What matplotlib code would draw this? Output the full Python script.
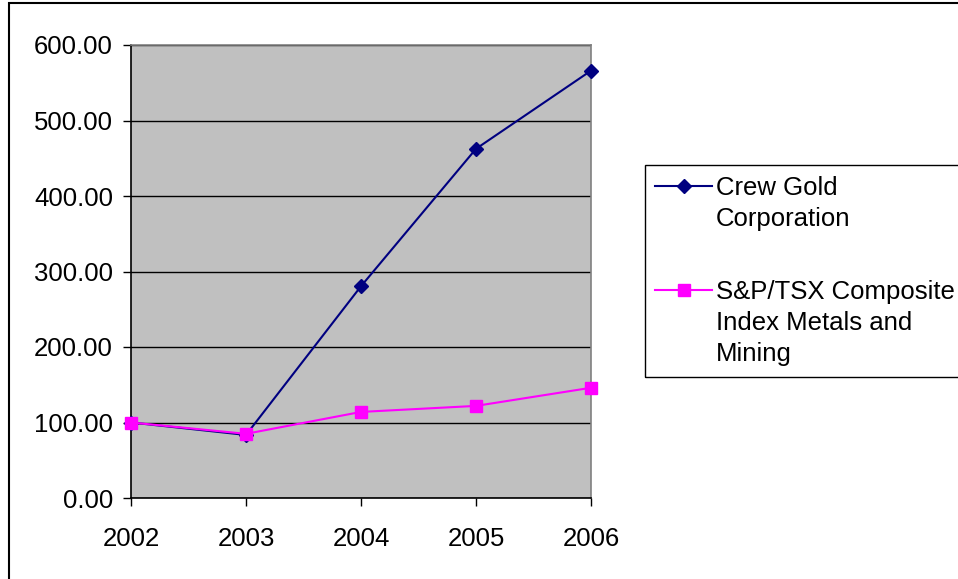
import matplotlib.pyplot as plt
from matplotlib.lines import Line2D
from matplotlib.patches import Rectangle

plt.rcParams['font.family'] = ['Liberation Sans', 'DejaVu Sans']

years = [2002, 2003, 2004, 2005, 2006]
crew_gold = [100.0, 83.5, 280.5, 462.5, 566.0]
sptsx_metals = [100.0, 85.0, 114.0, 122.0, 146.0]
labels = ['Crew Gold\nCorporation', 'S&P/TSX Composite\nIndex Metals and\nMining']

fs = 18.5
W, H = 958, 579

fig = plt.figure(figsize=(9.58, 5.79), dpi=100)
ax = fig.add_axes([131 / W, 1 - 498 / H, 460 / W, 453 / H])
ax.set_facecolor('#C0C0C0')

estilos = [dict(c='#000080', marker='D', markersize=7),
           dict(c='#FF00FF', marker='s', markersize=9)]

# linhas das series
for serie, est, z in zip([crew_gold, sptsx_metals], estilos, [3, 4]):
    ax.plot(years, serie, lw=1.5, markerfacecolor=est['c'],
            markeredgecolor=est['c'], zorder=z, clip_on=False, **est)

ax.set_xlim(2002, 2006)
ax.set_ylim(0, 600)
ax.set_xticks(years)
ax.set_yticks(range(0, 601, 100))
ax.set_yticklabels(['%.2f' % v for v in range(0, 601, 100)])
ax.tick_params(labelsize=fs, direction='out', length=6, width=1, colors='black')
ax.tick_params(axis='x', pad=15)
ax.tick_params(axis='y', pad=7)
ax.yaxis.grid(True, color='black', lw=1)
ax.set_axisbelow(True)
for side in ['left', 'bottom']:
    ax.spines[side].set_color('black')
    ax.spines[side].set_linewidth(1.2)
for side in ['top', 'right']:
    ax.spines[side].set_color('#808080')
    ax.spines[side].set_linewidth(1.2)

# legenda feita a mao (marcador alinhado com a primeira linha do texto)
fig.patches.append(Rectangle((645 / W, 1 - 377 / H), 400 / W, 212 / H,
                             transform=fig.transFigure, fill=False,
                             edgecolor='black', lw=1))
for lab, est, ytop in zip(labels, estilos, [186, 290]):
    yf = 1 - ytop / H
    fig.lines.append(Line2D([655 / W, 712 / W], [yf, yf], transform=fig.transFigure,
                            lw=1.5, color=est['c']))
    fig.lines.append(Line2D([683.5 / W], [yf], transform=fig.transFigure,
                            marker=est['marker'], markersize=est['markersize'],
                            color=est['c'], lw=0))
    fig.text(716 / W, 1 - (ytop - 10) / H, lab, fontsize=fs, va='top', ha='left',
             linespacing=1.38)

# moldura da figura
fig.patches.append(Rectangle((8.5 / W, -0.1), 2, 1 - 3.5 / H + 0.1,
                             transform=fig.transFigure, fill=False,
                             edgecolor='black', lw=1.5))

fig.savefig('out.png', dpi=100)
